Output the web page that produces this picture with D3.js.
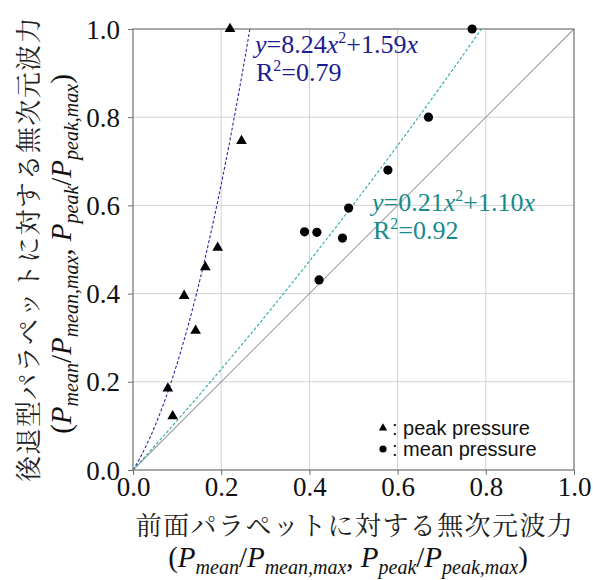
<!DOCTYPE html>
<html lang="en">
<head>
<meta charset="utf-8">
<script src="https://cdn.jsdelivr.net/npm/d3@7"></script>
<style>
  html, body { margin: 0; padding: 0; background: #fff; }
  svg { display: block; }
  .serif { font-family: "Liberation Serif", "Times New Roman", serif; }
  .mincho { font-family: "Noto Serif CJK JP", serif; }
  .sans { font-family: "Liberation Sans", Arial, sans-serif; }
</style>
</head>
<body>
<svg id="chart" width="593" height="580"></svg>
<script>
// Peak-pressure ratios (front parapet x, recurved parapet y)
const peakX = [0.079, 0.090, 0.116, 0.142, 0.164, 0.192, 0.246, 0.220];
const peakY = [0.185, 0.122, 0.395, 0.316, 0.460, 0.504, 0.746, 1.000];
// Mean-pressure ratios
const meanX = [0.389, 0.417, 0.422, 0.475, 0.489, 0.578, 0.670, 0.769];
const meanY = [0.540, 0.539, 0.431, 0.526, 0.594, 0.680, 0.800, 1.000];
// Quadratic fits through origin: y = a x^2 + b x
const peakFit = { a: 8.24, b: 1.59, r2: "0.79" };
const meanFit = { a: 0.21, b: 1.10, r2: "0.92" };
const ticks = [0, 0.2, 0.4, 0.6, 0.8, 1.0];

const svg = d3.select("#chart");
const L = 133, R = 574, T = 29, B = 470;
const x = d3.scaleLinear().domain([0, 1]).range([L, R]);
const y = d3.scaleLinear().domain([0, 1]).range([B, T]);

// grid
svg.append("g").selectAll("line").data(ticks.slice(1, -1)).join("line")
  .attr("x1", d => x(d)).attr("x2", d => x(d)).attr("y1", T).attr("y2", B)
  .attr("stroke", "#d2d2d2").attr("stroke-width", 1);
svg.append("g").selectAll("line").data(ticks.slice(1, -1)).join("line")
  .attr("y1", d => y(d)).attr("y2", d => y(d)).attr("x1", L).attr("x2", R)
  .attr("stroke", "#d2d2d2").attr("stroke-width", 1);

// 1:1 reference line
svg.append("line")
  .attr("x1", x(0)).attr("y1", y(0)).attr("x2", x(1)).attr("y2", y(1))
  .attr("stroke", "#a0a0a0").attr("stroke-width", 1.1);

// fitted curves, drawn up to y = 1
function fitPoints(f) {
  const xmax = (-f.b + Math.sqrt(f.b * f.b + 4 * f.a)) / (2 * f.a);
  return d3.range(0, 201).map(i => {
    const xv = xmax * i / 200;
    return [xv, f.a * xv * xv + f.b * xv];
  });
}
const line = d3.line().x(d => x(d[0])).y(d => y(d[1]));
svg.append("path").attr("d", line(fitPoints(peakFit)))
  .attr("fill", "none").attr("stroke", "#2a2aa8").attr("stroke-width", 1.1)
  .attr("stroke-dasharray", "3,2");
svg.append("path").attr("d", line(fitPoints(meanFit)))
  .attr("fill", "none").attr("stroke", "#30a6a6").attr("stroke-width", 1.1)
  .attr("stroke-dasharray", "3,2");

// frame
svg.append("rect").attr("x", L).attr("y", T).attr("width", R - L).attr("height", B - T)
  .attr("fill", "none").attr("stroke", "#707070").attr("stroke-width", 1.2);

// axes
const xAxis = d3.axisBottom(x).tickValues(ticks).tickFormat(d3.format(".1f")).tickSize(5).tickPadding(4);
const yAxis = d3.axisLeft(y).tickValues(ticks).tickFormat(d3.format(".1f")).tickSize(5).tickPadding(8);
const gx = svg.append("g").attr("transform", `translate(0,${B})`).call(xAxis);
const gy = svg.append("g").attr("transform", `translate(${L},0)`).call(yAxis);
[gx, gy].forEach(a => {
  a.attr("font-family", null).attr("font-size", null);
  a.select(".domain").remove();
  a.selectAll(".tick line").attr("stroke", "#707070");
  a.selectAll(".tick text").attr("class", "serif").attr("font-size", 27).attr("fill", "#111");
});
gx.selectAll(".tick text").attr("dy", "0.62em");
gy.selectAll(".tick text").attr("dy", "0.34em");

// markers
const tri = d3.symbol().type(d3.symbolTriangle).size(50);
svg.append("g").selectAll("path").data(d3.zip(peakX, peakY)).join("path")
  .attr("d", tri).attr("transform", d => `translate(${x(d[0])},${y(d[1])})`)
  .attr("fill", "#000");
svg.append("g").selectAll("circle").data(d3.zip(meanX, meanY)).join("circle")
  .attr("cx", d => x(d[0])).attr("cy", d => y(d[1])).attr("r", 4.6)
  .attr("fill", "#000");

// equation labels
function equation(f, px, py, color) {
  const t = svg.append("text").attr("class", "serif").attr("x", px).attr("y", py)
    .attr("font-size", 26).attr("fill", color);
  t.append("tspan").attr("font-style", "italic").text("y");
  t.append("tspan").text("=" + f.a.toFixed(2));
  t.append("tspan").attr("font-style", "italic").text("x");
  t.append("tspan").attr("font-size", 16).attr("dy", -10).text("2");
  t.append("tspan").attr("dy", 10).text("+" + f.b.toFixed(2));
  t.append("tspan").attr("font-style", "italic").text("x");
  const r = svg.append("text").attr("class", "serif").attr("x", px + 1).attr("y", py + 28)
    .attr("font-size", 26).attr("fill", color);
  r.append("tspan").text("R");
  r.append("tspan").attr("font-size", 16).attr("dy", -10).text("2");
  r.append("tspan").attr("dy", 10).text("=" + f.r2);
}
equation(peakFit, 255, 53, "#1c1c90");
equation(meanFit, 372, 211, "#178a8a");

// legend
const lg = svg.append("g");
lg.append("path").attr("d", d3.symbol().type(d3.symbolTriangle).size(30))
  .attr("transform", "translate(383,428)").attr("fill", "#000");
lg.append("circle").attr("cx", 383).attr("cy", 449).attr("r", 3.6).attr("fill", "#000");
lg.append("text").attr("class", "sans").attr("x", 392).attr("y", 435)
  .attr("font-size", 20).attr("fill", "#111").text(": peak pressure");
lg.append("text").attr("class", "sans").attr("x", 392).attr("y", 456)
  .attr("font-size", 20).attr("fill", "#111").text(": mean pressure");

// axis titles
function ratioLabel(sel) {
  const P = (s) => sel.append("tspan").attr("font-style", "italic").text(s);
  const sub = (s) => sel.append("tspan").attr("font-style", "italic").attr("font-size", 20).attr("dy", 7).text(s);
  const up = () => sel.append("tspan").attr("dy", -7);
  sel.append("tspan").text("(");
  P("P"); sub("mean"); up().text("/");
  P("P"); sub("mean,max"); up().text(", ");
  P("P"); sub("peak"); up().text("/");
  P("P"); sub("peak,max"); up().text(")");
}
svg.append("text").attr("class", "mincho").attr("x", 355).attr("y", 535).attr("text-anchor", "middle")
  .attr("font-size", 26).attr("letter-spacing", 1.4).attr("fill", "#222")
  .text("前面パラペットに対する無次元波力");
ratioLabel(svg.append("text").attr("class", "serif").attr("x", 348).attr("y", 567).attr("text-anchor", "middle")
  .attr("font-size", 29).attr("fill", "#111"));

svg.append("text").attr("class", "mincho").attr("transform", "translate(38,249) rotate(-90)")
  .attr("text-anchor", "middle")
  .attr("font-size", 26).attr("letter-spacing", 1.4).attr("fill", "#222")
  .text("後退型パラペットに対する無次元波力");
ratioLabel(svg.append("text").attr("class", "serif").attr("transform", "translate(71,254) rotate(-90)")
  .attr("text-anchor", "middle")
  .attr("font-size", 29).attr("fill", "#111"));
</script>
</body>
</html>
